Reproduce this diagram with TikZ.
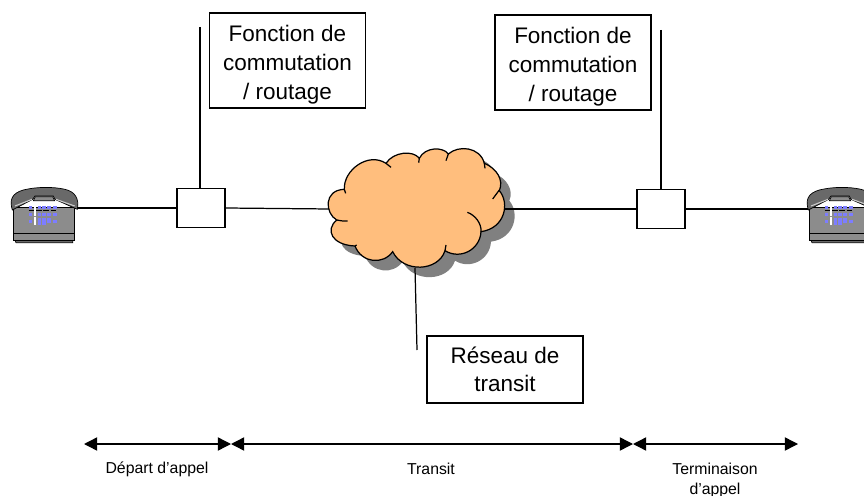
\documentclass[tikz,border=0pt]{standalone}
\usepackage{fontspec}
\setmainfont{Liberation Sans}
\usepackage{xcolor}
\definecolor{cloudorange}{RGB}{255, 190, 125}
\definecolor{shadowgray}{RGB}{128, 128, 128}
\definecolor{phonegray}{RGB}{140, 140, 140}
\definecolor{handsetgray}{RGB}{105, 105, 105}
\definecolor{keyblue}{RGB}{125, 125, 255}
\usetikzlibrary{arrows.meta, positioning}

\newcommand{\toppad}{\rule{0pt}{14pt}}

\newcommand{\cloudpath}{(103,178) .. controls (100,120) and (175,65) .. (228,100)
    .. controls (250,65) and (310,60) .. (328,85)
    .. controls (345,50) and (400,50) .. (415,72)
    .. controls (445,45) and (510,50) .. (523,100)
    .. controls (560,115) and (582,150) .. (568,182)
    .. controls (600,220) and (585,295) .. (513,305)
    .. controls (510,360) and (450,390) .. (405,362)
    .. controls (385,425) and (280,430) .. (248,365)
    .. controls (220,405) and (155,400) .. (135,348)
    .. controls (65,345) and (45,300) .. (80,270)
    .. controls (45,250) and (40,180) .. (103,178) -- cycle}

\newcommand{\drawphone}[2]{
    \begin{scope}[shift={(#1,#2)}, x=0.00667cm, y=-0.00667cm, line width=0.4pt]
        \filldraw[fill=handsetgray] (44,208) -- (218,208) -- (218,218) -- (48,218) -- cycle;
        \filldraw[fill=phonegray] (40,112) -- (222,112) -- (222,210) -- (40,210) -- cycle;
        \draw[line width=0.6pt] (40,190) -- (222,190);
        \filldraw[fill=handsetgray] (37,120) .. controls (28,90) and (35,70) .. (70,60)
            .. controls (110,50) and (160,50) .. (195,58)
            .. controls (225,65) and (238,85) .. (232,118)
            -- (165,88) -- (160,78) -- (105,78) -- (98,88) -- cycle;
        \filldraw[fill=phonegray] (100,92) -- (106,80) -- (158,80) -- (164,92) -- cycle;
        \draw[gray!40, line width=0.6pt] (45,108) -- (96,88);
        \draw[gray!40, line width=0.6pt] (168,88) -- (224,108);
        \foreach \kx in {91,118,132,147,165} {
            \foreach \ky in {112,133,155} {
                \fill[keyblue] (\kx-5,\ky-4) rectangle (\kx+5,\ky+4);
            }
        }
        \foreach \kx in {118,132,147} {
            \fill[keyblue] (\kx-5,144) rectangle (\kx+5,152);
        }
        \foreach \kx in {118,132} {
            \fill[keyblue] (\kx-5,158) rectangle (\kx+5,166);
        }
        \draw[white, line width=0.6pt] (105,105) -- (105,138);
        \draw[white, line width=0.6pt] (105,141) -- (105,166);
        \draw[black, line width=0.5pt, dash pattern=on 3.2pt off 1pt] (86,122) -- (172,122);
    \end{scope}
}

\begin{document}
\begin{tikzpicture}[
    x=0.02cm, y=-0.02cm,
    line width=0.7pt,
    label/.style={rectangle, draw, fill=white, inner sep=0pt, minimum width=3.12cm, align=center, font=\fontsize{12.8}{16.3}\selectfont},
    fnlabel/.style={label, minimum height=1.9cm},
    switch/.style={rectangle, draw, fill=white, inner sep=0pt, minimum width=0.96cm, minimum height=0.78cm},
    span/.style={{Triangle[length=7.5pt, width=7.5pt]}-{Triangle[length=7.5pt, width=7.5pt]}, line width=0.8pt},
    caption/.style={align=center, font=\fontsize{9}{11.4}\selectfont}
]
    \useasboundingbox (0,0) rectangle (864,496);

    \coordinate (phoneL) at (77,208);
    \coordinate (phoneR) at (808,209);
    \coordinate (cloudW) at (330,209);
    \coordinate (cloudE) at (505,209);
    \coordinate (cloudS) at (415,268);
    \coordinate (leadA) at (200,27);
    \coordinate (leadB) at (661,30);
    \coordinate (leadC) at (417,350);
    \coordinate (a0) at (84,444);
    \coordinate (a1) at (231,444);
    \coordinate (a2) at (633,444);
    \coordinate (a3) at (798,444);

    % cloud shadow
    \begin{scope}[shift={(320,140)}, x=0.00667cm, y=-0.00667cm]
        \fill[shadowgray] \cloudpath;
    \end{scope}

    \node[switch] (sw1) at (201,208) {};
    \node[switch] (sw2) at (661,209) {};

    \draw (phoneL) -- (sw1.west);
    \draw (sw1.east) -- (cloudW);
    \draw (cloudE) -- (sw2.west);
    \draw (sw2.east) -- (phoneR);
    \draw (leadA) -- (leadA |- sw1.north);
    \draw (leadB) -- (sw2.north);
    \draw (cloudS) -- (leadC);

    % cloud
    \begin{scope}[shift={(310,130)}, x=0.00667cm, y=-0.00667cm]
        \filldraw[fill=cloudorange] \cloudpath;
        \draw (103,178) -- (107,190);
        \draw (228,100) -- (243,112);
        \draw (328,85) -- (326,98);
        \draw (415,72) -- (408,92);
        \draw (523,100) -- (525,115);
        \draw (568,180) -- (548,207);
        \draw (513,305) .. controls (515,280) and (495,255) .. (472,247);
        \draw (405,362) -- (408,345);
        \draw (135,348) -- (140,345);
        \draw (80,270) .. controls (90,273) and (100,273) .. (113,273);
    \end{scope}

    \drawphone{0}{170}
    \drawphone{796}{170}

    \node[fnlabel] (fn1) at (287.5,60.5) {\toppad Fonction de\\commutation\\/ routage};
    \node[fnlabel] (fn2) at (573,62.5) {\toppad Fonction de\\commutation\\/ routage};
    \node[label, minimum height=1.34cm] (net) at (505,369.5) {Réseau de\\transit};

    \draw[span] (a0) -- (a1);
    \draw[span] (a1) -- (a2);
    \draw[span] (a2) -- (a3);

    \node[caption] (dep) at (157,469) {Départ d’appel};
    \node[caption] (tra) at (431,469) {Transit};
    \node[caption] (ter) at (715,480) {Terminaison\\d’appel};
\end{tikzpicture}
\end{document}
